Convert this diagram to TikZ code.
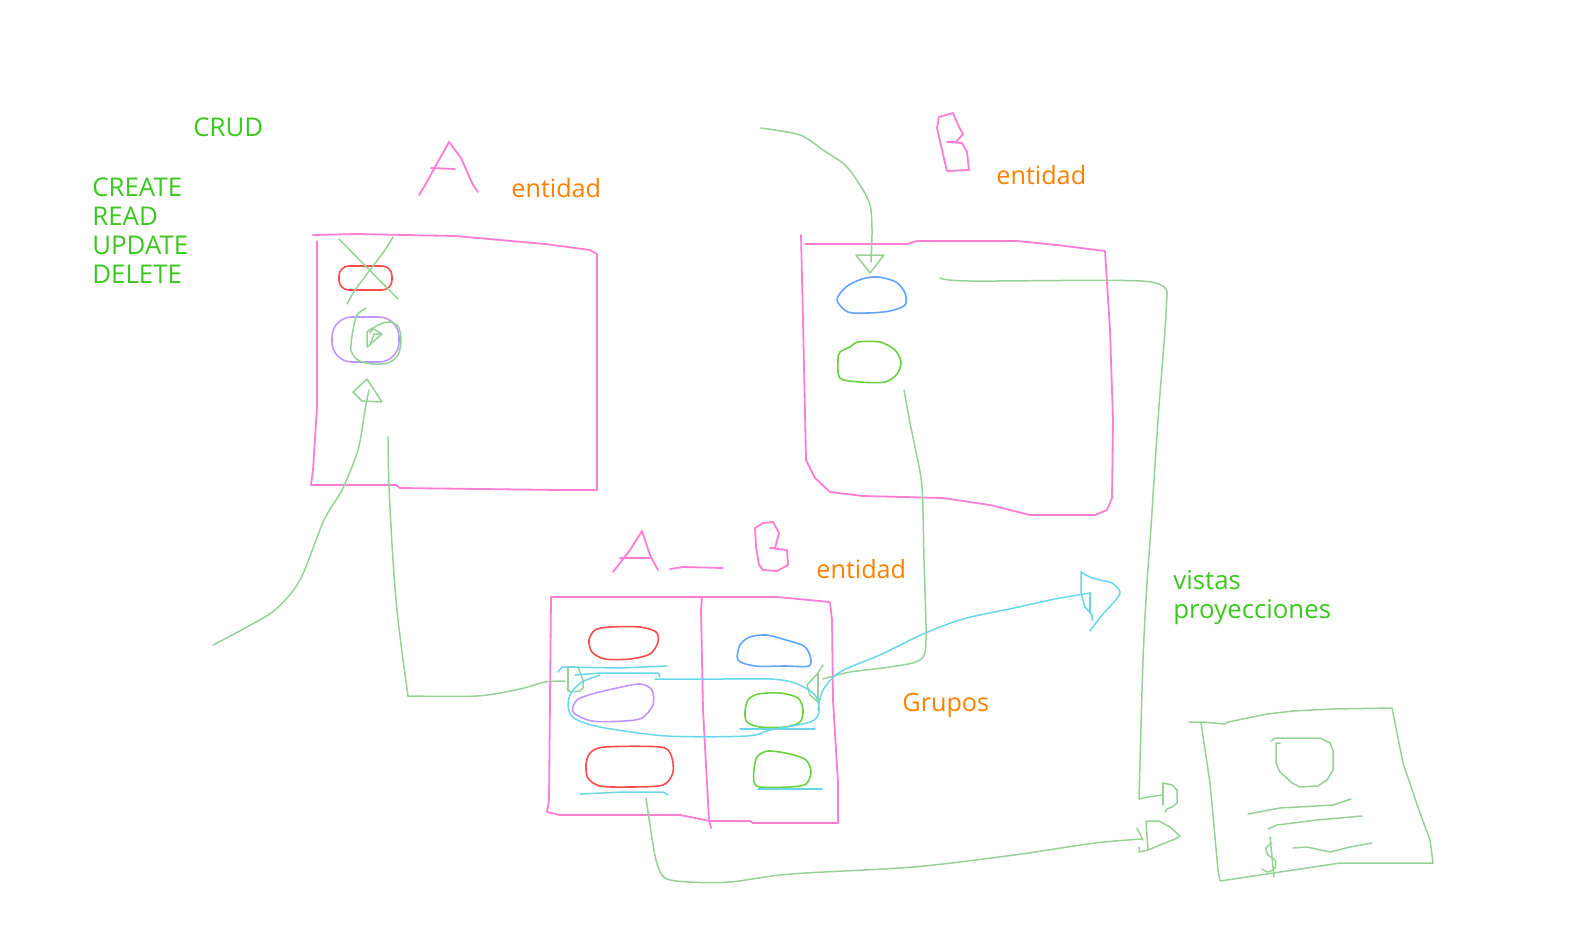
\documentclass[tikz,border=0pt]{standalone}
\usepackage{fontspec}
\setmainfont{Open Sans}
\definecolor{tgreen}{RGB}{58,200,30}
\definecolor{torange}{RGB}{255,128,0}
\definecolor{spink}{RGB}{255,125,212}
\definecolor{lgreen}{RGB}{150,210,150}
\definecolor{sred}{RGB}{255,75,75}
\definecolor{sblue}{RGB}{95,165,255}
\definecolor{spurple}{RGB}{190,150,255}
\definecolor{sgreen}{RGB}{105,210,65}
\definecolor{scyan}{RGB}{105,215,235}
\begin{document}
\begin{tikzpicture}[x=0.5pt,y=-0.5pt,line join=round,line cap=round,
  gtext/.style={text=tgreen,anchor=base west,inner sep=0pt,font=\fontsize{12.9pt}{14.5pt}\selectfont,align=left},
  otext/.style={text=torange,anchor=base west,inner sep=0pt,font=\fontsize{12.6pt}{14.5pt}\selectfont},
  pinkline/.style={draw=spink,line width=0.9pt},
  gline/.style={draw=lgreen,line width=0.75pt},
  cline/.style={draw=scyan,line width=0.75pt},
  blob/.style={line width=0.8pt}]
\useasboundingbox (0,0) rectangle (1590,927);

% ---- texts
\node[gtext] (crud) at (193,136) {CRUD};
\node[gtext,anchor=north west] (ops) at (92,177) {CREATE\\READ\\UPDATE\\DELETE};
\node[otext] (entA) at (511,197) {entidad};
\node[otext] (entB) at (996,184) {entidad};
\node[otext] (entAB) at (816,578) {entidad};
\node[otext] (grupos) at (902,711) {Grupos};
\node[gtext,anchor=north west] (vistas) at (1173,570) {vistas\\proyecciones};

% ---- hand letters
\draw[pinkline] (419,195) -- (424,187) -- (449,142) -- (461,158) -- (473,185) -- (478,192);
\draw[pinkline] (431,168) -- (455,169);
\draw[pinkline] (945,163) -- (937,128) -- (939,117) -- (953,113) -- (959,127) -- (963,134) -- (956,142) -- (947,142) -- (962,143) -- (967,152) -- (969,170) -- (947,171) -- (942,150);
\draw[pinkline] (613,572) -- (630,550) -- (642,531) -- (650,555) -- (658,570);
\draw[pinkline] (620,558) -- (650,558);
\draw[pinkline] (670,569) -- (683,567) -- (723,568);
\draw[pinkline] (755,528) -- (763,523) -- (773,522) -- (779,533) -- (775,548) -- (770,548) -- (787,550) -- (788,565) -- (777,571) -- (763,570) -- (759,565) -- (756,547) -- cycle;

% ---- box A
\draw[pinkline] (313,235) -- (356,234) -- (455,236) -- (500,240) -- (545,244) -- (590,250) -- (597,254) -- (597,490) -- (560,490) -- (400,488) -- (396,485) -- (311,485) -- (313,470) -- (317,407) -- (317,241);
\draw[sred,blob,rounded corners=5pt] (339,266) rectangle (392,290);
\draw[spurple,blob,rounded corners=10pt] (332,317) rectangle (399,362);
\draw[gline] (339,239) -- (398,299);
\draw[gline] plot[smooth] coordinates {(393,237) (385,250) (370,270) (355,290) (347,304)};
\draw[gline] plot[smooth] coordinates {(366,308) (357,315) (353,330) (351,350) (358,360) (372,364) (388,363) (398,355) (401,340) (398,326) (388,322) (376,326) (370,333)};
\draw[gline] (367,332) -- (372,328) -- (382,334) -- (367,347) -- cycle;
\draw[gline] (370,345) -- (374,334) -- (380,334);
% arrow up into A
\draw[gline] (353,392) -- (367,379) -- (382,402) -- (362,401) -- cycle;
\draw[gline] plot[smooth] coordinates {(369,390) (365,410) (358,450) (342,490) (324,520) (300,580) (275,610) (245,628) (213,645)};
% line from A down to AB
\draw[gline] plot[smooth] coordinates {(388,437) (389,487) (393,560) (398,620) (408,696)};
\draw[gline] plot[smooth] coordinates {(408,696) (477,696) (520,689) (545,682) (565,681)};
\draw[gline] (568,667) -- (578,667) -- (583,680) -- (583,688) -- (580,691) -- (570,692) -- (567,688);
\draw[gline] (568,667) -- (568,691);

% ---- box B
\draw[pinkline] (801,235) -- (803,320) -- (806,460) -- (815,478) -- (830,492) -- (863,496) -- (943,498) -- (990,505) -- (1030,515) -- (1095,515) -- (1107,510) -- (1112,498) -- (1113,420) -- (1110,330) -- (1105,251) -- (1057,245) -- (1017,241) -- (917,241) -- (907,244) -- (805,244);
\draw[sblue,blob] plot[smooth cycle] coordinates {(837,300) (846,287) (862,279) (878,277) (896,282) (905,293) (905,305) (890,311) (868,313) (848,312)};
\draw[sgreen,blob] plot[smooth cycle] coordinates {(838,360) (840,352) (850,347) (858,342) (880,342) (895,350) (901,362) (897,374) (885,382) (860,382) (840,378)};
% arrow into B
\draw[gline] plot[smooth] coordinates {(761,128) (800,135) (823,150) (845,165) (860,185) (870,205) (872,230) (871,262)};
\draw[gline] (856,255) -- (884,255) -- (870,273) -- cycle;
% line B to document
\draw[gline] plot[smooth] coordinates {(940,278) (970,281) (1142,281) (1167,293)};
\draw[gline] plot[smooth] coordinates {(1167,293) (1165,330) (1158,420) (1151,527) (1147,583) (1143,660) (1139,799)};
\draw[gline] (1139,799) -- (1148,797) -- (1162,795);
\draw[gline] (1163,783) -- (1163,805);
\draw[gline] (1163,783) -- (1172,785) -- (1177,790) -- (1177,803) -- (1172,807) -- (1167,809) -- (1165,812);
% line B green down to AB
\draw[gline] plot[smooth] coordinates {(904,390) (910,423) (915,447) (922,487) (924,560) (926,640) (920,660) (890,667) (850,672) (823,679)};
\draw[gline] (823,665) -- (818,673) -- (807,685) -- (810,695) -- (818,702);
\draw[gline] (818,673) -- (818,702);

% ---- box AB
\draw[pinkline] (551,597) -- (777,597) -- (830,602) -- (832,620) -- (833,700) -- (838,783) -- (838,823) -- (753,823) -- (750,821) -- (710,821) -- (680,815) -- (560,815) -- (547,812) -- (549,800) -- (551,597);
\draw[pinkline] (702,597) -- (701,610) -- (703,710) -- (709,820) -- (711,828);
\draw[sred,blob] plot[smooth cycle] coordinates {(589,640) (595,630) (610,627) (640,627) (656,632) (658,642) (650,654) (630,659) (605,659) (592,652)};
\draw[sblue,blob] plot[smooth cycle] coordinates {(738,660) (740,645) (750,637) (766,635) (786,640) (804,646) (810,656) (809,666) (785,666) (755,666)};
\draw[spurple,blob] plot[smooth cycle] coordinates {(573,712) (577,700) (592,694) (617,688) (640,684) (652,690) (653,705) (642,718) (624,721) (592,721)};
\draw[sgreen,blob] plot[smooth cycle] coordinates {(745,712) (748,700) (758,694) (780,693) (798,698) (803,710) (800,722) (785,727) (760,727) (747,722)};
\draw[sred,blob] plot[smooth cycle] coordinates {(586,765) (590,753) (605,747) (660,747) (671,755) (673,772) (663,785) (630,787) (600,786) (588,778)};
\draw[sgreen,blob] plot[smooth cycle] coordinates {(754,770) (757,757) (768,751) (790,754) (806,760) (811,772) (806,784) (790,787) (760,787) (754,782)};
% cyan marks
\draw[cline] (558,672) -- (562,667) -- (620,668) -- (667,666);
\draw[cline] (575,675) -- (600,673) -- (658,673) -- (660,677);
\draw[cline] plot[smooth] coordinates {(655,679) (720,679) (770,679) (795,683) (815,695) (819,712) (810,722) (770,730) (747,736) (667,736) (600,727) (574,718) (568,706) (571,693) (582,682) (600,675)};
\draw[cline] (740,729) -- (815,729);
\draw[cline] (580,794) -- (623,792) -- (663,792) -- (668,795);
\draw[cline] (758,789) -- (822,789);
% cyan arrow to vistas
\draw[cline] plot[smooth] coordinates {(818,710) (823,690) (840,672) (882,654) (923,634) (963,619) (1014,608) (1055,599) (1090,593)};
\draw[cline] (1081,572) -- (1081,593) -- (1085,607) -- (1092,615) -- (1092,620);
\draw[cline] (1090,593) -- (1090,612);
\draw[cline] plot[smooth] coordinates {(1081,572) (1090,577) (1100,580) (1112,583) (1120,592) (1114,602) (1102,615) (1090,631)};
% line from AB bottom to document
\draw[gline] plot[smooth] coordinates {(646,798) (650,825) (656,860) (665,878) (690,882) (730,882) (791,874) (913,867) (1014,855) (1095,843) (1142,839)};
\draw[gline] (1146,821) -- (1159,821) -- (1170,827) -- (1180,836) -- (1175,839) -- (1160,845) -- (1148,850) -- (1139,852) -- (1139,847);
\draw[gline] (1146,821) -- (1148,850);
\draw[gline] (1137,828) -- (1143,840);

% ---- document
\draw[gline] (1189,722) -- (1202,722) -- (1225,724) -- (1228,722) -- (1267,714) -- (1293,711) -- (1333,709) -- (1392,708) -- (1393,713) -- (1403,763) -- (1420,813) -- (1430,840) -- (1433,863) -- (1340,863) -- (1280,872) -- (1240,878) -- (1220,881) -- (1218,870) -- (1210,783) -- (1201,723);
\draw[gline] (1271,741) -- (1275,738) -- (1320,738) -- (1330,743) -- (1333,750) -- (1333,770) -- (1327,780) -- (1318,786) -- (1300,787) -- (1292,783) -- (1280,772) -- (1276,763) -- (1276,743) -- (1280,743);
\draw[gline] (1248,814) -- (1280,808) -- (1333,805) -- (1351,799);
\draw[gline] (1268,829) -- (1277,825) -- (1317,820) -- (1362,816);
\draw[gline] (1293,848) -- (1307,847) -- (1330,852) -- (1350,847) -- (1372,843);
\draw[gline] plot[smooth] coordinates {(1272,843) (1266,848) (1268,855) (1275,860) (1275,868) (1268,872) (1262,869)};
\draw[gline] (1270,837) -- (1274,877);
\end{tikzpicture}
\end{document}
